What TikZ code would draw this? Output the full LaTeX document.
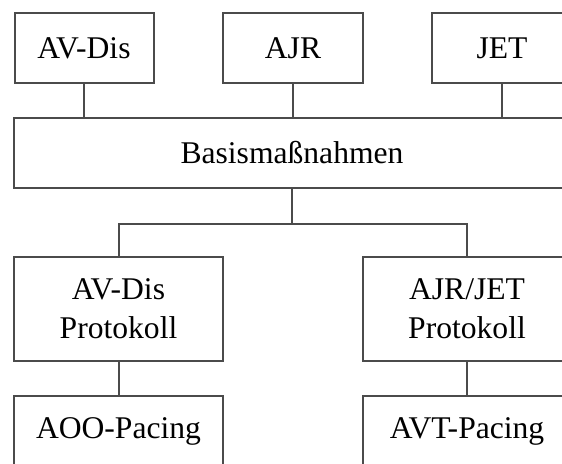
\documentclass[tikz,border=0pt]{standalone}
\usepackage{fontspec}
\setmainfont{Liberation Serif}
\usepackage{tikz}
\usepackage{xcolor}
\usetikzlibrary{positioning,calc}
\definecolor{linegray}{RGB}{75,75,75}

\begin{document}
\begin{tikzpicture}[x=0.5pt,y=-0.5pt,
    box/.style={draw=linegray, line width=1pt, inner sep=0pt, align=center,
        minimum height=35pt, font=\fontsize{15.8}{19.5}\selectfont},
    link/.style={draw=linegray, line width=1pt}]
    % frame of the picture
    \useasboundingbox (0,0) rectangle (562,464);
    \clip (0,0) rectangle (562,464);

    % top row
    \node[box, minimum width=69.5pt] (avdis) at (84,48) {AV-Dis};
    \node[box, minimum width=70pt] (ajr) at (293,48) {AJR};
    \node[box, minimum width=70pt] (jet) at (502,48) {JET};

    % base measures
    \node[box, minimum width=278pt] (basis) at (292,153) {Basismaßnahmen};

    % protocols
    \node[box, minimum width=104.5pt, minimum height=52pt] (avprot) at (118.5,309) {AV-Dis\\Protokoll};
    \node[box, minimum width=104pt, minimum height=52pt] (ajrprot) at (467,309) {AJR/JET\\Protokoll};

    % pacing
    \node[box, minimum width=104.5pt] (aoo) at (118.5,431) {AOO-Pacing};
    \node[box, minimum width=104pt] (avt) at (467,431) {AVT-Pacing};

    % connectors
    \draw[link] (avdis.south) -- (avdis.south |- basis.north);
    \draw[link] (ajr.south) -- (ajr.south |- basis.north);
    \draw[link] (jet.south) -- (jet.south |- basis.north);

    \coordinate (fork) at ($(basis.south)+(0,35)$);
    \draw[link] (basis.south) -- (fork);
    \draw[link] (avprot.north) |- (fork) -| (ajrprot.north);

    \draw[link] (avprot.south) -- (aoo.north);
    \draw[link] (ajrprot.south) -- (avt.north);
\end{tikzpicture}
\end{document}
